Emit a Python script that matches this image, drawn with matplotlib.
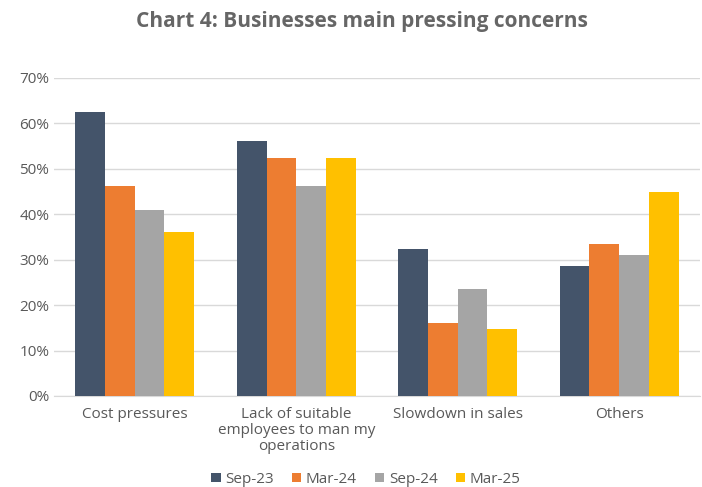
import numpy as np
import matplotlib.pyplot as plt
from matplotlib.ticker import PercentFormatter

categories = ["Cost pressures", "Lack of suitable\nemployees to man my\noperations",
              "Slowdown in sales", "Others"]
periods = ["Sep-23", "Mar-24", "Sep-24", "Mar-25"]
sep23 = [62.4, 56.2, 32.4, 28.5]
mar24 = [46.1, 52.3, 16.0, 33.5]
sep24 = [41.0, 46.1, 23.6, 31.1]
mar25 = [36.1, 52.3, 14.8, 44.9]
colors = ["#44546a", "#ed7d31", "#a5a5a5", "#ffc000"]

series = [sep23, mar24, sep24, mar25]
text_col = "#595959"
plt.rcParams["font.family"] = ["Open Sans", "DejaVu Sans"]

fig = plt.figure(figsize=(7.02, 4.87), dpi=100)
ax = fig.add_axes([0.077, 0.187, 0.92, 0.653])

x = np.arange(len(categories))
width = 0.184
for i, (vals, name) in enumerate(zip(series, periods)):
    ax.bar(x + (i - 1.5) * width, vals, width, color=colors[i], label=name, zorder=3)

ax.set_xlim(-0.5, len(categories) - 0.5)
ax.set_ylim(0, 70)
ax.set_yticks(np.arange(0, 71, 10))
ax.yaxis.set_major_formatter(PercentFormatter(decimals=0))
ax.grid(axis="y", color="#d9d9d9", linewidth=1, zorder=0)
for side in ["top", "right", "left"]:
    ax.spines[side].set_visible(False)
ax.spines["bottom"].set_color("#d9d9d9")
ax.tick_params(axis="both", length=0, colors=text_col, labelsize=11)
ax.tick_params(axis="x", pad=8)
ax.set_xticks(x)
ax.set_xticklabels(categories, linespacing=1.1, va="top")

fig.text(0.515, 0.955, "Chart 4: Businesses main pressing concerns", ha="center",
         va="center", fontsize=15, fontweight="bold", color="#666666")

ax.legend(loc="center", bbox_to_anchor=(0.483, -0.262), ncol=4, frameon=False,
          handlelength=0.6, handleheight=0.6, handletextpad=0.3, columnspacing=1.2,
          fontsize=11, labelcolor=text_col)

fig.savefig("out.png", dpi=100)
